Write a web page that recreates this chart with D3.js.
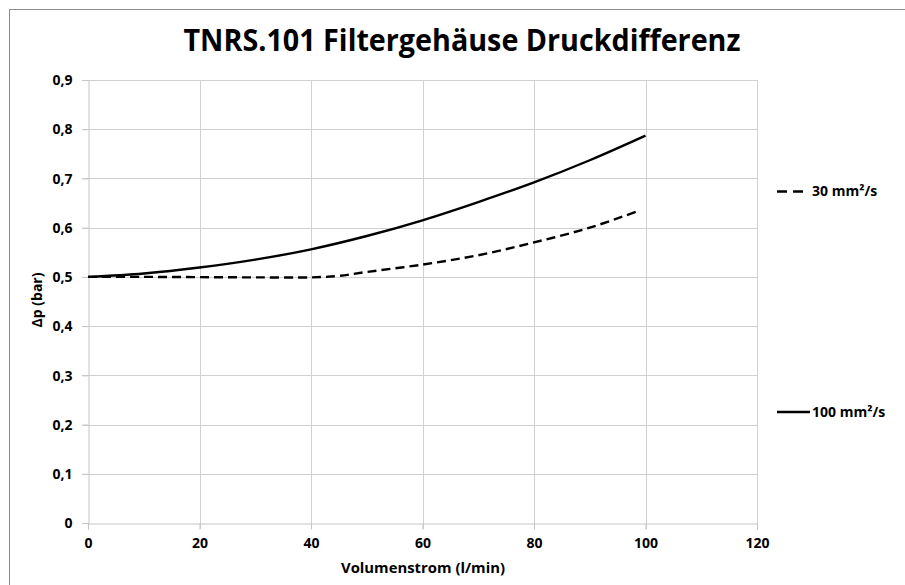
<!DOCTYPE html>
<html>
<head>
<meta charset="utf-8">
<script src="https://cdn.jsdelivr.net/npm/d3@7"></script>
<style>
  body { margin: 0; background: #fff; }
  svg { display: block; font-family: "Open Sans", sans-serif; }
</style>
</head>
<body>
<div id="chart"></div>
<script>
// Values
const xTicks = [0, 20, 40, 60, 80, 100, 120];
const yTicks = [0, 0.1, 0.2, 0.3, 0.4, 0.5, 0.6, 0.7, 0.8, 0.9];

// 100 mm²/s (solid)
const flow100 = [0, 10, 20, 30, 40, 50, 60, 70, 80, 90, 100];
const dp100 = [0.5, 0.507, 0.519, 0.535, 0.556, 0.583, 0.615, 0.652, 0.692, 0.737, 0.787];

// 30 mm²/s (dashed)
const flow30 = [0, 10, 20, 30, 40, 45, 50, 60, 70, 80, 90, 98.7];
const dp30 = [0.5, 0.5, 0.4995, 0.499, 0.499, 0.502, 0.510, 0.525, 0.544, 0.570, 0.600, 0.634];

const seriesNames = ["30 mm²/s", "100 mm²/s"];

const width = 905, height = 585;

const svg = d3.select("#chart").append("svg")
    .attr("width", width)
    .attr("height", height);

// chart frame (runs off the right and bottom edge)
svg.append("rect")
    .attr("x", 9.5).attr("y", 9.5)
    .attr("width", 920).attr("height", 600)
    .attr("fill", "#fff")
    .attr("stroke", "#8c8c8c")
    .attr("stroke-width", 1);

const x = d3.scaleLinear().domain([0, 120]).range([88, 757]);
const y = d3.scaleLinear().domain([0, 0.9]).range([523, 80]);

const fmt = d => d === 0 ? "0" : d3.format(".1f")(d).replace(".", ",");

// gridlines
svg.append("g")
    .selectAll("line")
    .data(xTicks.slice(1))
    .join("line")
    .attr("x1", d => Math.round(x(d)) + 0.5).attr("x2", d => Math.round(x(d)) + 0.5)
    .attr("y1", y(0.9)).attr("y2", y(0) + 6)
    .attr("stroke", "#d0d0d0");

svg.append("g")
    .selectAll("line")
    .data(yTicks.slice(1))
    .join("line")
    .attr("x1", x(0) - 6).attr("x2", x(120))
    .attr("y1", d => Math.round(y(d)) + 0.5).attr("y2", d => Math.round(y(d)) + 0.5)
    .attr("stroke", "#d0d0d0");

// axes
const xAxis = svg.append("g")
    .attr("transform", `translate(0,${Math.round(y(0)) + 0.5})`)
    .call(d3.axisBottom(x).tickValues(xTicks).tickSize(6).tickPadding(9).tickFormat(d3.format("d")));
const yAxis = svg.append("g")
    .attr("transform", `translate(${Math.round(x(0)) + 0.5},0)`)
    .call(d3.axisLeft(y).tickValues(yTicks).tickSize(6).tickPadding(10).tickFormat(fmt));

[xAxis, yAxis].forEach(a => {
    a.select(".domain").attr("stroke", "#c4c4c4");
    a.selectAll(".tick line").attr("stroke", "#c4c4c4");
    a.selectAll("text")
        .attr("fill", "#000")
        .style("font-size", "14px")
        .style("font-weight", "bold")
        .style("font-family", "'Open Sans', sans-serif");
});
yAxis.selectAll("text").attr("dy", "0.34em");

// lines
const line = d3.line()
    .x(d => x(d[0]))
    .y(d => y(d[1]))
    .curve(d3.curveCatmullRom);

svg.append("path")
    .datum(flow100.map((f, i) => [f, dp100[i]]))
    .attr("d", line)
    .attr("fill", "none")
    .attr("stroke", "#000")
    .attr("stroke-width", 2.4);

svg.append("path")
    .datum(flow30.map((f, i) => [f, dp30[i]]))
    .attr("d", line)
    .attr("fill", "none")
    .attr("stroke", "#000")
    .attr("stroke-width", 2.4)
    .attr("stroke-dasharray", "9,5");

// title
svg.append("text")
    .attr("x", 462).attr("y", 51)
    .attr("text-anchor", "middle")
    .style("font-size", "31px")
    .style("font-weight", "bold")
    .attr("textLength", 557).attr("lengthAdjust", "spacingAndGlyphs")
    .text("TNRS.101 Filtergehäuse Druckdifferenz");

// axis titles
svg.append("text")
    .attr("x", 423).attr("y", 573)
    .attr("text-anchor", "middle")
    .style("font-size", "14px")
    .style("font-weight", "bold")
    .attr("textLength", 164).attr("lengthAdjust", "spacingAndGlyphs")
    .text("Volumenstrom (l/min)");

svg.append("text")
    .attr("transform", "translate(42,300) rotate(-90)")
    .attr("text-anchor", "middle")
    .style("font-size", "14px")
    .style("font-weight", "bold")
    .text("Δp (bar)");

// legend
const legend = svg.append("g");
const legendRows = [
    { name: seriesNames[0], y: 191.5, dash: "10,6", x2: 803 },
    { name: seriesNames[1], y: 412, dash: null, x2: 810 }
];
legendRows.forEach(r => {
    legend.append("line")
        .attr("x1", 777).attr("x2", r.x2)
        .attr("y1", r.y).attr("y2", r.y)
        .attr("stroke", "#000")
        .attr("stroke-width", 2.4)
        .attr("stroke-dasharray", r.dash);
    legend.append("text")
        .attr("x", 812).attr("y", r.y)
        .attr("dy", "0.35em")
        .style("font-size", "14px")
        .style("font-weight", "bold")
        .text(r.name);
});
</script>
</body>
</html>
